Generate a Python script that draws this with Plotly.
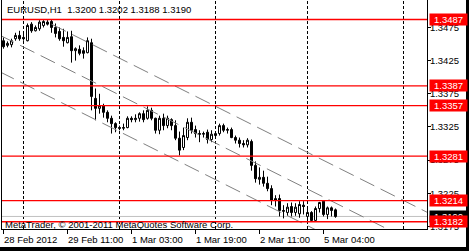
import plotly.graph_objects as go

# ---------------- data ----------------
symbol_title = "EURUSD,H1\u00a0\u00a01.3200 1.3202 1.3188 1.3190"
copyright_text = "MetaTrader, \u00a9 2001-2011 MetaQuotes Software Corp."

bar_index = list(range(84))
open_ = [1.3455, 1.3448, 1.3449, 1.3458, 1.3463, 1.3460, 1.3455, 1.3480, 1.3470, 1.3473,
         1.3478, 1.3483, 1.3484, 1.3475, 1.3469, 1.3460, 1.3452, 1.3461, 1.3440, 1.3442,
         1.3440, 1.3437, 1.3452, 1.3368, 1.3353, 1.3357, 1.3347, 1.3338, 1.3330, 1.3324,
         1.3323, 1.3324, 1.3338, 1.3336, 1.3338, 1.3345, 1.3338, 1.3350, 1.3338, 1.3320,
         1.3338, 1.3327, 1.3336, 1.3327, 1.3308, 1.3294, 1.3309, 1.3332, 1.3321, 1.3315,
         1.3314, 1.3317, 1.3306, 1.3312, 1.3315, 1.3327, 1.3320, 1.3321, 1.3309, 1.3305,
         1.3300, 1.3298, 1.3303, 1.3267, 1.3246, 1.3249, 1.3240, 1.3232, 1.3214, 1.3217,
         1.3199, 1.3196, 1.3205, 1.3196, 1.3194, 1.3207, 1.3190, 1.3196, 1.3184, 1.3202,
         1.3213, 1.3193, 1.3203, 1.3200]
high = [1.3460, 1.3454, 1.3458, 1.3467, 1.3470, 1.3466, 1.3481, 1.3483, 1.3478, 1.3486,
        1.3486, 1.3486, 1.3487, 1.3481, 1.3475, 1.3473, 1.3469, 1.3470, 1.3445, 1.3448,
        1.3445, 1.3460, 1.3458, 1.3383, 1.3375, 1.3360, 1.3350, 1.3342, 1.3332, 1.3327,
        1.3330, 1.3341, 1.3341, 1.3344, 1.3347, 1.3350, 1.3356, 1.3354, 1.3339, 1.3342,
        1.3345, 1.3342, 1.3338, 1.3335, 1.3318, 1.3324, 1.3338, 1.3339, 1.3327, 1.3320,
        1.3318, 1.3321, 1.3320, 1.3318, 1.3330, 1.3330, 1.3324, 1.3324, 1.3312, 1.3309,
        1.3305, 1.3308, 1.3306, 1.3273, 1.3264, 1.3259, 1.3250, 1.3237, 1.3222, 1.3223,
        1.3207, 1.3210, 1.3211, 1.3210, 1.3213, 1.3213, 1.3202, 1.3198, 1.3205, 1.3212,
        1.3214, 1.3205, 1.3205, 1.3202]
low = [1.3443, 1.3445, 1.3445, 1.3455, 1.3455, 1.3455, 1.3454, 1.3467, 1.3469, 1.3470,
       1.3475, 1.3478, 1.3467, 1.3460, 1.3455, 1.3446, 1.3451, 1.3422, 1.3425, 1.3433,
       1.3428, 1.3436, 1.3350, 1.3335, 1.3345, 1.3339, 1.3332, 1.3315, 1.3317, 1.3320,
       1.3320, 1.3323, 1.3332, 1.3332, 1.3333, 1.3332, 1.3336, 1.3335, 1.3315, 1.3314,
       1.3320, 1.3323, 1.3320, 1.3305, 1.3282, 1.3290, 1.3305, 1.3315, 1.3309, 1.3302,
       1.3309, 1.3300, 1.3302, 1.3309, 1.3312, 1.3317, 1.3315, 1.3308, 1.3300, 1.3294,
       1.3294, 1.3294, 1.3259, 1.3241, 1.3238, 1.3235, 1.3228, 1.3207, 1.3205, 1.3190,
       1.3187, 1.3191, 1.3190, 1.3191, 1.3188, 1.3193, 1.3183, 1.3182, 1.3182, 1.3196,
       1.3190, 1.3186, 1.3190, 1.3188]
close = [1.3446, 1.3451, 1.3455, 1.3463, 1.3458, 1.3458, 1.3478, 1.3470, 1.3475, 1.3483,
         1.3484, 1.3480, 1.3475, 1.3466, 1.3458, 1.3455, 1.3460, 1.3440, 1.3443, 1.3436,
         1.3436, 1.3455, 1.3371, 1.3353, 1.3357, 1.3347, 1.3338, 1.3330, 1.3324, 1.3323,
         1.3324, 1.3338, 1.3336, 1.3338, 1.3345, 1.3336, 1.3350, 1.3338, 1.3320, 1.3338,
         1.3327, 1.3338, 1.3327, 1.3308, 1.3290, 1.3312, 1.3332, 1.3320, 1.3315, 1.3314,
         1.3315, 1.3306, 1.3314, 1.3315, 1.3327, 1.3320, 1.3321, 1.3309, 1.3305, 1.3300,
         1.3298, 1.3305, 1.3267, 1.3247, 1.3249, 1.3240, 1.3232, 1.3214, 1.3217, 1.3199,
         1.3198, 1.3204, 1.3196, 1.3204, 1.3208, 1.3205, 1.3196, 1.3184, 1.3202, 1.3211,
         1.3193, 1.3203, 1.3199, 1.3190]

time_tick_index = [0, 16, 32, 48, 64, 80]
time_tick_text = ["28 Feb 2012", "29 Feb 11:00", "1 Mar 03:00", "1 Mar 19:00",
                  "2 Mar 11:00", "5 Mar 04:00"]
day_separator_index = [5, 29, 53, 76, 100]
price_ticks = [1.3175, 1.3225, 1.3275, 1.3325, 1.3375, 1.3425, 1.3475]
level_prices = [1.3487, 1.3387, 1.3357, 1.3281, 1.3214, 1.3182]
bid_price = 1.3190

# channel lines: start (bar, price) -> end (bar, price)
channel_x0 = [12, -1, -1]
channel_p0 = [1.3480, 1.34636, 1.34084]
channel_x1 = [106, 106, 106]
channel_p1 = [1.3196, 1.31408, 1.30856]

x_range = [-0.375, 105.875]
y_range = [1.317108, 1.351641]

# ---------------- figure ----------------
FONT = "Liberation Sans, Arial, sans-serif"
W, H = 469, 251
ML, MR, MT, MB = 2, 42, 0, 22
PW = W - ML - MR
PH = H - MT - MB

def px_x(px):
    return (px - ML) / PW

def px_y(py):
    return (H - MB - py) / PH

fig = go.Figure()
fig.add_trace(go.Candlestick(
    x=bar_index, open=open_, high=high, low=low, close=close,
    increasing=dict(line=dict(color="black", width=1), fillcolor="white"),
    decreasing=dict(line=dict(color="black", width=1), fillcolor="black"),
    whiskerwidth=0, showlegend=False, hoverinfo="skip",
))

shapes = []
# day separators (dashed grid)
for d in day_separator_index:
    shapes.append(dict(type="line", xref="x", yref="paper", x0=d, x1=d, y0=0, y1=1,
                       line=dict(color="black", width=1, dash="3px,2px"), layer="below"))
# bid line
shapes.append(dict(type="line", xref="paper", yref="y", x0=0, x1=1, y0=bid_price, y1=bid_price,
                   line=dict(color="#c0c0c0", width=1), layer="below"))
# channel lines
for x0, p0, x1, p1 in zip(channel_x0, channel_p0, channel_x1, channel_p1):
    shapes.append(dict(type="line", xref="x", yref="y", x0=x0, y0=p0, x1=x1, y1=p1,
                       line=dict(color="#808080", width=1, dash="16px,7px"), layer="above"))
# horizontal levels
for p in level_prices:
    shapes.append(dict(type="line", xref="paper", yref="y", x0=0, x1=1, y0=p, y1=p,
                       line=dict(color="#ff0000", width=1.3), layer="above"))
# window border (right and bottom black edges)
shapes.append(dict(type="rect", xref="paper", yref="paper", x0=px_x(466), x1=px_x(470),
                   y0=px_y(252), y1=px_y(-1), fillcolor="black", line=dict(width=0), layer="above"))
shapes.append(dict(type="rect", xref="paper", yref="paper", x0=px_x(-1), x1=px_x(470),
                   y0=px_y(252), y1=px_y(247), fillcolor="black", line=dict(width=0), layer="above"))

annotations = []
annotations.append(dict(text=symbol_title, xref="paper", yref="paper", x=px_x(6), y=1,
                        xanchor="left", yanchor="top", yshift=-3, showarrow=False,
                        font=dict(family=FONT, size=9.5, color="black"), borderpad=0))
annotations.append(dict(text=copyright_text, xref="paper", yref="paper", x=px_x(4), y=0,
                        xanchor="left", yanchor="bottom", yshift=-2, showarrow=False,
                        font=dict(family=FONT, size=9.5, color="black"), borderpad=0))
for idx, lab in zip(time_tick_index, time_tick_text):
    annotations.append(dict(text=lab, xref="x", yref="paper", x=idx, y=0,
                            xanchor="left", yanchor="top", yshift=-4, xshift=-1, showarrow=False,
                            font=dict(family=FONT, size=9.5, color="black"), borderpad=0))
# bid label (black) then level labels (red)
annotations.append(dict(text=f"{bid_price:.4f}", xref="paper", yref="y", x=px_x(429), y=bid_price,
                        xanchor="left", yanchor="middle", showarrow=False, width=37, height=11,
                        align="center", bgcolor="black", borderpad=0,
                        font=dict(family=FONT, size=9.5, color="white")))
for p in level_prices:
    annotations.append(dict(text=f"{p:.4f}", xref="paper", yref="y", x=px_x(429), y=p,
                            xanchor="left", yanchor="middle", showarrow=False, width=37, height=11,
                            align="center", bgcolor="#ff0000", borderpad=0,
                            font=dict(family=FONT, size=9.5, color="white")))

fig.update_layout(
    width=W, height=H, margin=dict(l=ML, r=MR, t=MT, b=MB, pad=0),
    paper_bgcolor="white", plot_bgcolor="white",
    boxgap=0.5, boxgroupgap=0,
    showlegend=False, shapes=shapes, annotations=annotations,
    font=dict(family=FONT, size=9.5, color="black"),
    xaxis=dict(range=x_range, rangeslider=dict(visible=False), showgrid=False, zeroline=False,
               showline=True, linecolor="black", linewidth=1, mirror=False,
               tickmode="array", tickvals=time_tick_index, ticktext=[""] * len(time_tick_index),
               ticks="outside", ticklen=4, tickcolor="black", tickwidth=1, fixedrange=True),
    yaxis=dict(range=y_range, side="right", showgrid=False, zeroline=False,
               showline=True, linecolor="black", linewidth=1, mirror=True,
               tickmode="array", tickvals=price_ticks, tickformat=".4f",
               ticks="outside", ticklen=3, tickcolor="black", tickwidth=1,
               ticklabelstandoff=-3,
               tickfont=dict(family=FONT, size=9.5, color="black"), fixedrange=True),
)

fig.write_html("out.html", config={"displayModeBar": False})
